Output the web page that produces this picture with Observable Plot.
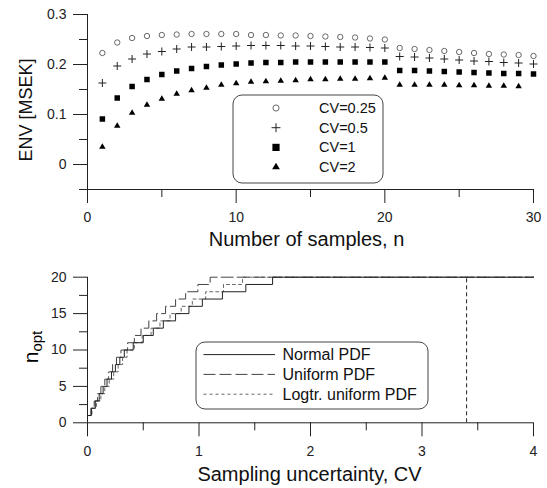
<!DOCTYPE html>
<html><head><meta charset="utf-8">
<script src="https://cdn.jsdelivr.net/npm/d3@7"></script>
<script src="https://cdn.jsdelivr.net/npm/@observablehq/plot@0.6"></script>
<style>
body{margin:0;background:#fff;font-family:"Liberation Sans",Arial,sans-serif;}
#wrap{position:relative;width:547px;height:488px;overflow:hidden;}
#wrap svg{display:block;}
.ov{position:absolute;}
.ylab2{position:absolute;left:32px;top:347px;transform:translate(-50%,-50%) rotate(-90deg);font-size:21px;white-space:nowrap;line-height:1;}
.ylab2 sub{font-size:15px;vertical-align:-4px;}
</style></head><body><div id="wrap"></div>
<script>
// ---- top panel data ----
const nSamples = [1,2,3,4,5,6,7,8,9,10,11,12,13,14,15,16,17,18,19,20,21,22,23,24,25,26,27,28,29,30];
const envCV025 = [.223,.244,.253,.257,.259,.260,.261,.261,.261,.261,.259,.259,.258,.258,.257,.256,.255,.254,.252,.250,.233,.231,.229,.227,.225,.223,.221,.220,.219,.217];
const envCV05  = [.163,.197,.211,.221,.226,.231,.235,.235,.236,.237,.238,.238,.238,.237,.237,.236,.235,.235,.234,.233,.216,.215,.213,.211,.209,.207,.206,.204,.203,.201];
const envCV1   = [.091,.133,.156,.170,.180,.187,.192,.196,.199,.201,.203,.204,.204,.205,.205,.205,.205,.205,.205,.205,.188,.188,.187,.186,.185,.184,.183,.182,.182,.181];
const envCV2   = [.035,.077,.103,.119,.131,.141,.148,.153,.159,.162,.165,.166,.167,.168,.170,.170,.171,.171,.172,.173,.159,.159,.159,.159,.158,.158,.157,.157,.156];
const topSeries = ["CV=0.25","CV=0.5","CV=1","CV=2"];
const topXTicks = [0,10,20,30];
const topXMinor = [5,15,25];
const topYTicks = [0,0.1,0.2,0.3];
const topYMinor = [-0.05,0.05,0.15,0.25];

// ---- bottom panel data ----
const nOpt = [1,2,3,4,5,6,7,8,9,10,11,12,13,14,15,16,17,18,19,20];
const cvNormal  = [0.00,0.035,0.07,0.105,0.14,0.175,0.215,0.25,0.29,0.33,0.41,0.50,0.59,0.68,0.79,0.91,1.03,1.21,1.42,1.66];
const cvUniform = [0.00,0.03,0.06,0.09,0.12,0.155,0.19,0.225,0.26,0.30,0.36,0.42,0.48,0.55,0.62,0.70,0.79,0.88,0.99,1.10];
const cvLogtr   = [0.00,0.04,0.08,0.12,0.155,0.195,0.235,0.275,0.315,0.355,0.42,0.49,0.57,0.65,0.74,0.84,0.94,1.06,1.22,1.39];
const cvEnd = 4;
const cvLimit = 3.4;
const botSeries = ["Normal PDF","Uniform PDF","Logtr. uniform PDF"];
const botXTicks = [0,1,2,3,4];
const botXMinor = [0.5,1.5,2.5,3.5];
const botYTicks = [0,5,10,15,20];
const botYMinor = [2.5,7.5,12.5,17.5];

const FONT = "Liberation Sans, Arial, sans-serif";
const wrap = document.getElementById("wrap");
const fmt = d => String(+d.toFixed(2));

const pts = (ys) => ys.map((v,i) => ({n: nSamples[i], v}));

const topPlot = Plot.plot({
  width: 547, height: 250,
  marginLeft: 87, marginRight: 14, marginTop: 14, marginBottom: 61,
  style: {fontFamily: FONT, fontSize: "14px", color: "#222", background: "#fff", overflow: "visible"},
  x: {domain: [0, 30]},
  y: {domain: [-0.05, 0.3]},
  marks: [
    Plot.axisX({ticks: topXTicks, tickSize: 14, tickPadding: 9, tickFormat: fmt, label: null, fontSize: 14}),
    Plot.axisX({ticks: topXMinor, tickSize: 8, tickFormat: () => "", label: null}),
    Plot.axisY({ticks: topYTicks, tickSize: 14, tickPadding: 7, tickFormat: fmt, label: null, fontSize: 14}),
    Plot.axisY({ticks: topYMinor, tickSize: 8, tickFormat: () => "", label: null}),
    Plot.ruleX([0], {stroke: "#222"}),
    Plot.ruleY([-0.05], {stroke: "#222"}),
    Plot.dot(pts(envCV025), {x: "n", y: "v", symbol: "circle", r: 2.7, stroke: "#444", strokeWidth: 0.8, fill: "none"}),
    Plot.dot(pts(envCV05), {x: "n", y: "v", symbol: "plus", r: 2.7, stroke: "#222", strokeWidth: 1}),
    Plot.dot(pts(envCV1), {x: "n", y: "v", symbol: "square", r: 3.1, fill: "#000", stroke: "none"}),
    Plot.dot(pts(envCV2), {x: "n", y: "v", symbol: "triangle", r: 2.4, fill: "#000", stroke: "none"}),
    Plot.text(["Number of samples, n"], {frameAnchor: "bottom", lineAnchor: "middle", dy: 50, dx: -4, fontSize: 20, fill: "#111"}),
    Plot.text(["ENV [MSEK]"], {frameAnchor: "left", textAnchor: "middle", rotate: -90, dx: -61, dy: 8, fontSize: 18, fill: "#111"})
  ]
});

const steps = (cvs) => cvs.map((c,i) => ({cv: c, n: nOpt[i]})).concat([{cv: cvEnd, n: nOpt[nOpt.length-1]}]);

const botPlot = Plot.plot({
  width: 547, height: 238,
  marginLeft: 87, marginRight: 14, marginTop: 26.7, marginBottom: 65.7,
  style: {fontFamily: FONT, fontSize: "14px", color: "#222", background: "#fff", overflow: "visible"},
  x: {domain: [0, 4]},
  y: {domain: [0, 20]},
  marks: [
    Plot.axisX({ticks: botXTicks, tickSize: 14, tickPadding: 9, tickFormat: fmt, label: null, fontSize: 14}),
    Plot.axisX({ticks: botXMinor, tickSize: 8, tickFormat: () => "", label: null}),
    Plot.axisY({ticks: botYTicks, tickSize: 14, tickPadding: 7, tickFormat: fmt, label: null, fontSize: 14}),
    Plot.axisY({ticks: botYMinor, tickSize: 8, tickFormat: () => "", label: null}),
    Plot.ruleX([0], {stroke: "#222"}),
    Plot.ruleY([0], {stroke: "#222"}),
    Plot.ruleX([cvLimit], {y1: 0, y2: 20, stroke: "#222", strokeDasharray: "4,3"}),
    Plot.line(steps(cvLogtr), {x: "cv", y: "n", curve: "step-after", stroke: "#666", strokeWidth: 1, strokeDasharray: "3,3"}),
    Plot.line(steps(cvUniform), {x: "cv", y: "n", curve: "step-after", stroke: "#444", strokeWidth: 1, strokeDasharray: "12,4"}),
    Plot.line(steps(cvNormal), {x: "cv", y: "n", curve: "step-after", stroke: "#222", strokeWidth: 1}),
    Plot.text(["Sampling uncertainty, CV"], {frameAnchor: "bottom", lineAnchor: "middle", dy: 52, dx: -1, fontSize: 20, fill: "#111"})
  ]
});

wrap.appendChild(topPlot);
wrap.appendChild(botPlot);

// y label with subscript
const yl = document.createElement("div");
yl.className = "ylab2";
yl.innerHTML = "n<sub>opt</sub>";
wrap.appendChild(yl);

// ---- legends (overlays) ----
function legendBox(left, top, w, h) {
  const svg = d3.select(wrap).append("svg")
    .attr("class", "ov").attr("width", w + 2).attr("height", h + 2)
    .style("left", (left - 1) + "px").style("top", (top - 1) + "px");
  svg.append("rect").attr("x", 1).attr("y", 1).attr("width", w).attr("height", h)
    .attr("rx", 9).attr("fill", "#fff").attr("stroke", "#444").attr("stroke-width", 1);
  return svg;
}

const topLeg = legendBox(233, 95, 150, 88);
const topSyms = [
  {s: d3.symbolCircle, size: 30, fill: "none", stroke: "#444", sw: 0.8},
  {s: d3.symbolPlus, size: 28, fill: "none", stroke: "#222", sw: 1},
  {s: d3.symbolSquare, size: 52, fill: "#000", stroke: "none", sw: 0},
  {s: d3.symbolTriangle, size: 26, fill: "#000", stroke: "none", sw: 0}
];
topSeries.forEach((name, i) => {
  const cy = 1 + 13 + i * 19.7;
  const sy = topSyms[i];
  topLeg.append("path").attr("d", d3.symbol(sy.s, sy.size)())
    .attr("transform", `translate(${1 + 43},${cy})`)
    .attr("fill", sy.fill).attr("stroke", sy.stroke).attr("stroke-width", sy.sw);
  topLeg.append("text").attr("x", 1 + 86).attr("y", cy).attr("dy", "0.35em")
    .attr("font-family", FONT).attr("font-size", 14.5).attr("fill", "#111").text(name);
});

const botLeg = legendBox(196, 342, 232, 67);
const botStyles = [
  {stroke: "#222", dash: null},
  {stroke: "#444", dash: "12,4"},
  {stroke: "#666", dash: "3,3"}
];
botSeries.forEach((name, i) => {
  const cy = 1 + 12.6 + i * 19.8;
  const st = botStyles[i];
  const ln = botLeg.append("line").attr("x1", 1 + 7.5).attr("x2", 1 + 79).attr("y1", cy).attr("y2", cy)
    .attr("stroke", st.stroke).attr("stroke-width", 1);
  if (st.dash) ln.attr("stroke-dasharray", st.dash);
  botLeg.append("text").attr("x", 1 + 86.5).attr("y", cy).attr("dy", "0.35em")
    .attr("font-family", FONT).attr("font-size", 16).attr("fill", "#111").text(name);
});
</script>
</body></html>
